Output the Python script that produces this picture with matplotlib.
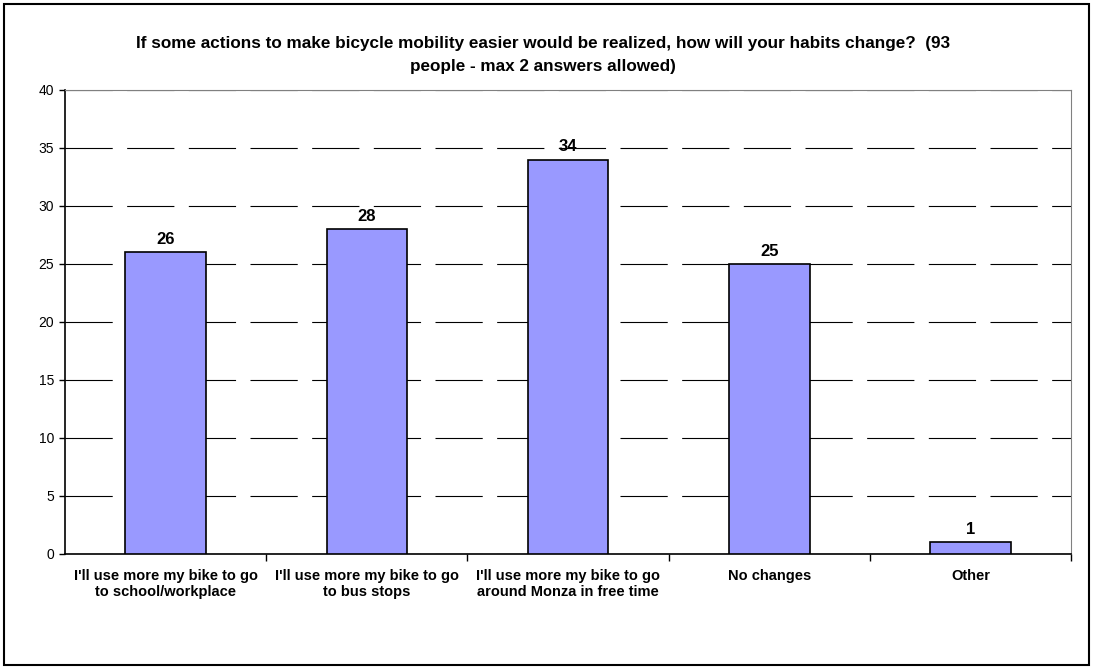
import matplotlib
matplotlib.use('Agg')
import matplotlib.pyplot as plt
from matplotlib.patches import Rectangle

plt.rcParams['font.family'] = ['Liberation Sans', 'DejaVu Sans']

# Data
categories = ["I'll use more my bike to go\nto school/workplace",
              "I'll use more my bike to go\nto bus stops",
              "I'll use more my bike to go\naround Monza in free time",
              "No changes",
              "Other"]
answers = [26, 28, 34, 25, 1]
yticks = [0, 5, 10, 15, 20, 25, 30, 35, 40]

fig = plt.figure(figsize=(10.93, 6.68), dpi=100)
ax = fig.add_axes([0.0595, 0.1707, 0.9205, 0.6946])

x = range(len(categories))
ax.bar(x, answers, width=0.4, color='#9999FF', edgecolor='black', linewidth=1.2, zorder=3)
for i, v in enumerate(answers):
    ax.text(i, v + 0.45, str(v), ha='center', va='bottom', fontsize=12, fontweight='bold')

ax.set_xlim(-0.5, len(categories) - 0.5)
ax.set_ylim(0, 40)
ax.set_yticks(yticks)
ax.tick_params(axis='y', labelsize=10, length=4, pad=4, direction='out', width=1)
ax.set_xticks(list(x))
ax.set_xticklabels(categories, fontsize=10.5, fontweight='bold', linespacing=1.15)
ax.tick_params(axis='x', which='major', length=0, pad=11)
ax.set_xticks([i + 0.5 for i in range(len(categories))], minor=True)
ax.tick_params(axis='x', which='minor', length=5, direction='out', width=1)

ax.yaxis.grid(True, color='black', linewidth=0.8, linestyle=(0, (42.5, 13)), zorder=0)
ax.spines['left'].set_color('black')
ax.spines['bottom'].set_color('black')
ax.spines['left'].set_linewidth(1.2)
ax.spines['bottom'].set_linewidth(1.2)
ax.spines['top'].set_color('#808080')
ax.spines['right'].set_color('#808080')

fig.text(0.497, 0.918,
         "If some actions to make bicycle mobility easier would be realized, how will your habits change?  (93\npeople - max 2 answers allowed)",
         ha='center', va='center', fontsize=12.3, fontweight='bold', linespacing=1.65)

# figure border
fig.patches.append(Rectangle((0.004, 0.005), 0.992, 0.989, transform=fig.transFigure,
                             fill=False, edgecolor='black', linewidth=1.5))

fig.savefig('out.png', dpi=100)
